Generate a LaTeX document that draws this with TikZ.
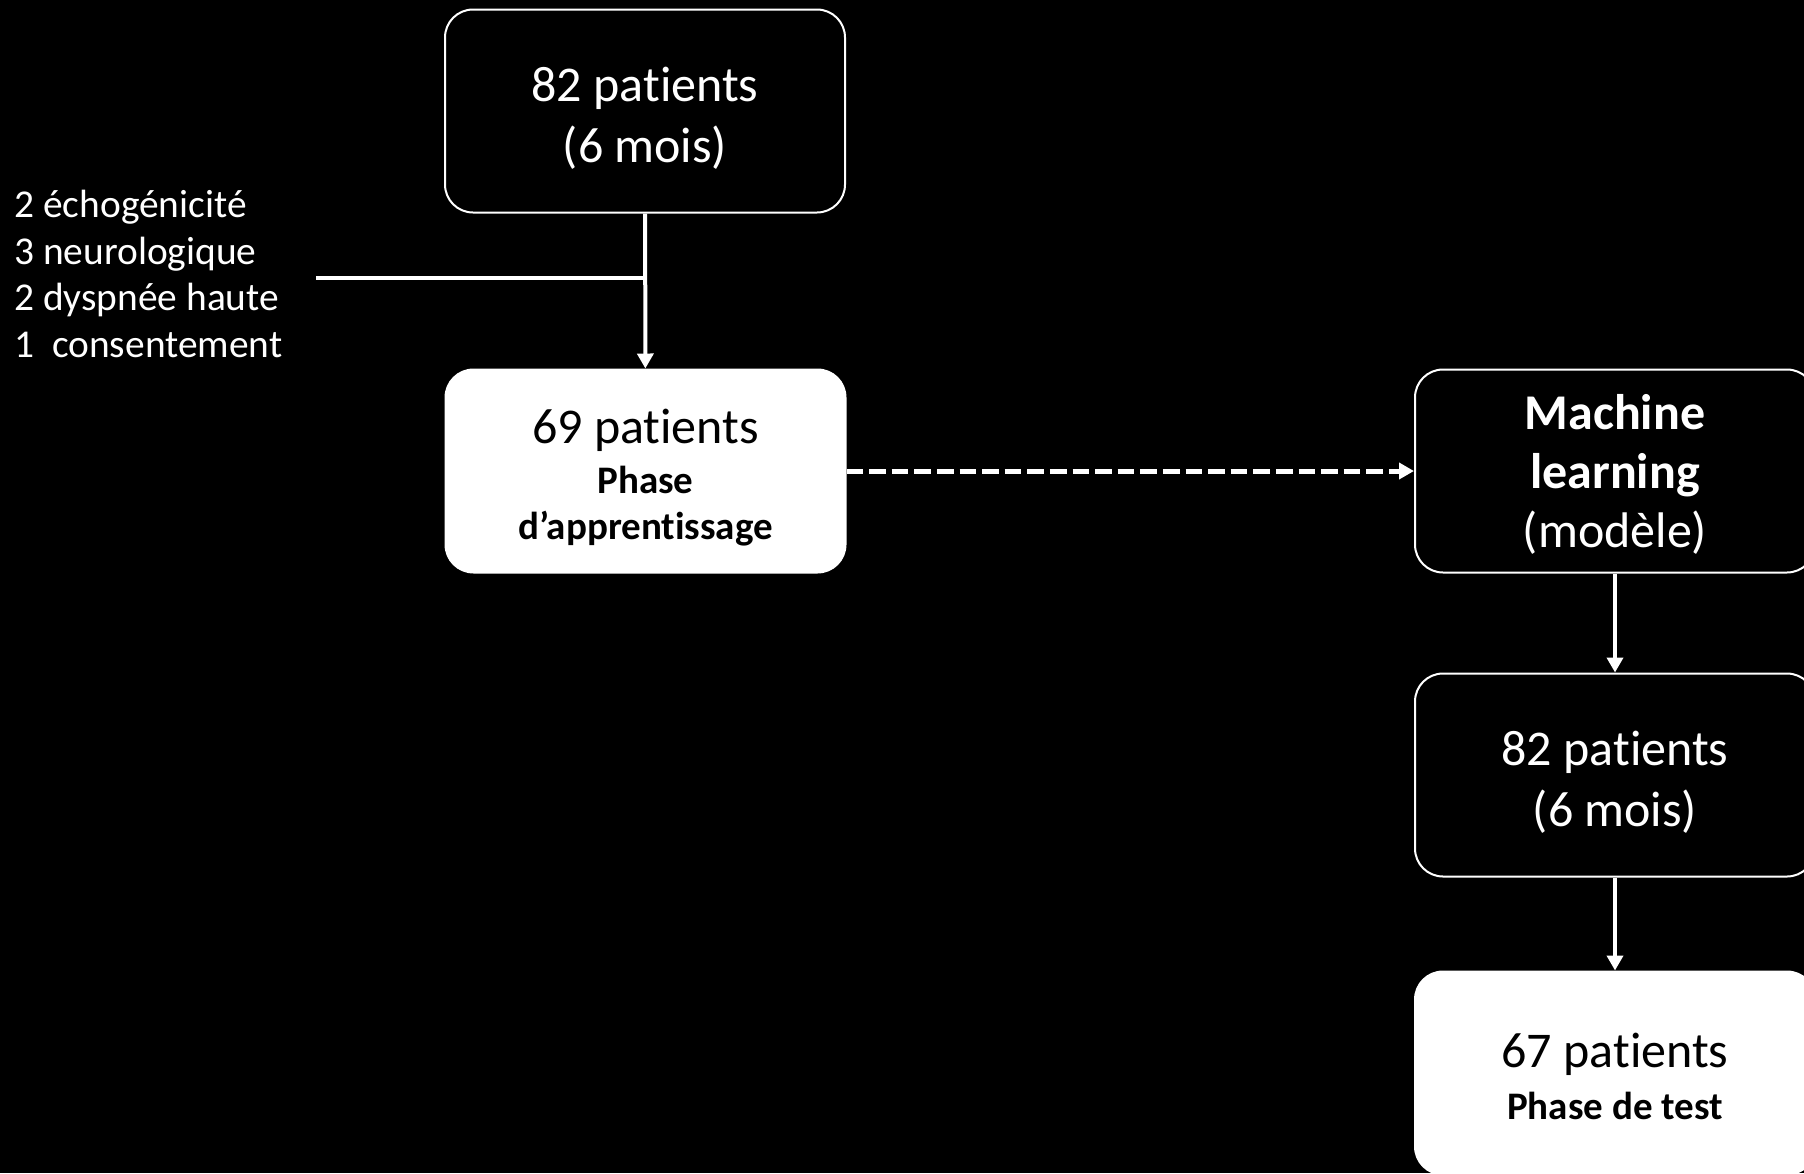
\documentclass[tikz,border=0pt]{standalone}
\usepackage{fontspec}
\setmainfont{Carlito}[Ligatures={NoCommon,NoRequired,NoContextual}]
\usetikzlibrary{arrows.meta}
% no ti ligature, and a taller first line so the text sits a bit lower
\newcommand{\patients}{pat\kern0pt ients}
\newcommand{\boxstrut}{\rule{0pt}{20.5pt}}

\begin{document}
\begin{tikzpicture}[x=0.5pt, y=-0.5pt,
    box/.style={rectangle, rounded corners=14pt, draw=white, line width=1pt,
      minimum width=200pt, minimum height=101.5pt, inner sep=0pt, align=center,
      text=white, font=\fontsize{25}{30.5}\selectfont, text depth=0pt},
    whitebox/.style={box, fill=white, text=black},
    link/.style={draw=white, line width=2pt, -{Triangle[width=8pt,length=7.5pt]}}]
      \useasboundingbox (0,0) rectangle (1804,1173);
      \fill[black] (0,0) rectangle (1804,1173);
      \clip (0,0) rectangle (1804,1173);
      \node[box] (1) at (645,111) {\boxstrut 82 \patients\\(6 mois)};
      \node[whitebox, font=\fontsize{19.5}{23}\selectfont\bfseries] (2) at (645.5,471)
        {{\fontsize{25}{30}\mdseries\selectfont\boxstrut 69 \patients}\\[2pt]Phase\\d’apprentissage};
      \node[box] (3) at (1615,471) {\textbf{Machine}\\[-1pt]\textbf{learning}\\[-1pt](modèle)};
      \node[box] (4) at (1615,775) {\boxstrut 82 \patients\\(6 mois)};
      \node[whitebox, font=\fontsize{19.5}{23}\selectfont\bfseries] (5) at (1615,1073)
        {{\fontsize{25}{30}\mdseries\selectfont\boxstrut 67 \patients}\\[3pt]Phase de test};
      \node[anchor=west, align=left, inner sep=0pt, text=white,
        font=\fontsize{19.7}{23.3}\selectfont] (exclus) at (14,274)
        {2 échogénicité\\3 neurologique\\2 dyspnée haute\\1\ \ consentement};
      \coordinate (cut) at (316,278);
      \draw[link] (1) -- (2);
      \draw[draw=white, line width=2pt] (cut) -- (cut -| 1.south);
      \draw[link, line width=2.5pt, dash pattern=on 8.3pt off 3pt] (2) -- (3);
      \draw[link] (3) -- (4);
      \draw[link] (4) -- (5);
    \end{tikzpicture}
\end{document}
